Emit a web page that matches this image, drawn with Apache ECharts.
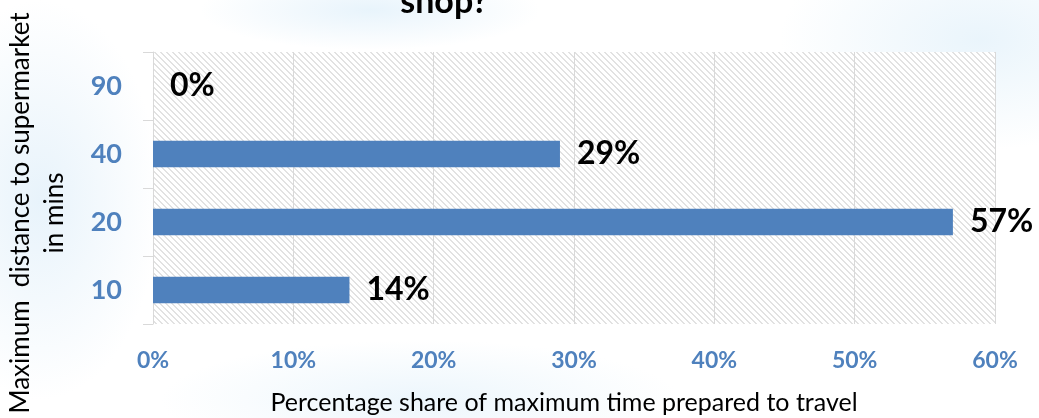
<!DOCTYPE html>
<html>
<head>
<meta charset="utf-8">
<title>Maximum distance to supermarket</title>
<script src="https://cdn.jsdelivr.net/npm/echarts@6/dist/echarts.min.js"></script>
<style>
  html, body { margin: 0; padding: 0; background: #ffffff; }
  #wrap {
    position: relative;
    width: 1039px; height: 418px; overflow: hidden;
    background:
      radial-gradient(ellipse 120px 200px at 40px 200px, rgba(226,240,250,0.8), rgba(226,240,250,0) 100%),
      radial-gradient(ellipse 170px 40px at 370px 10px, rgba(228,242,251,0.85), rgba(228,242,251,0) 100%),
      radial-gradient(ellipse 200px 110px at 980px 40px, rgba(230,243,251,0.85), rgba(230,243,251,0) 100%),
      radial-gradient(ellipse 260px 60px at 420px 400px, rgba(230,243,251,0.75), rgba(230,243,251,0) 100%),
      #ffffff;
  }
  #chart { width: 1039px; height: 418px; }
</style>
</head>
<body>
<div id="wrap"><div id="chart"></div></div>
<script>
// Minutes people are prepared to travel, bottom to top on the axis
const categories = ['10', '20', '40', '90'];
// Share of respondents (%) for each maximum travel time
const shares = [14, 57, 29, 0];
// Tick values on the percentage axis
const percentTicks = [0, 10, 20, 30, 40, 50, 60];

const BLUE = '#4f81bd';
const FONT = 'Lato, "Open Sans", sans-serif';

// Hatched fill for the plotting area (light downward diagonal)
function hatchPattern() {
  const c = document.createElement('canvas');
  c.width = 6; c.height = 6;
  const g = c.getContext('2d');
  g.fillStyle = '#ffffff';
  g.fillRect(0, 0, 6, 6);
  g.fillStyle = '#e2e2e2';
  for (let y = 0; y < 6; y++) {
    for (let x = 0; x < 6; x++) {
      const d = ((x - y) % 6 + 6) % 6;
      if (d === 0 || d === 1) g.fillRect(x, y, 1, 1);
    }
  }
  return { image: c, repeat: 'repeat' };
}

const chart = echarts.init(document.getElementById('chart'), null, { renderer: 'canvas' });

chart.setOption({
  backgroundColor: 'transparent',
  animation: false,
  grid: {
    left: 153, right: 44, top: 52, bottom: 94,
    show: true,
    backgroundColor: hatchPattern(),
    borderWidth: 0
  },
  xAxis: {
    type: 'value',
    min: percentTicks[0],
    max: percentTicks[percentTicks.length - 1],
    interval: percentTicks[1] - percentTicks[0],
    axisLine: { show: false },
    axisTick: { show: false },
    splitLine: { show: true, lineStyle: { color: '#d9d9d9', width: 1 } },
    axisLabel: {
      formatter: '{value}%',
      color: BLUE,
      fontFamily: FONT,
      fontWeight: 'bold',
      fontSize: 23,
      margin: 25
    }
  },
  yAxis: {
    type: 'category',
    data: categories,
    axisLine: { show: true, lineStyle: { color: '#d9d9d9', width: 1 } },
    axisTick: { show: true, length: 10, lineStyle: { color: '#d9d9d9', width: 1 } },
    splitLine: { show: false },
    axisLabel: {
      color: BLUE,
      fontFamily: FONT,
      fontWeight: 'bold',
      fontSize: 27,
      margin: 31
    }
  },
  series: [{
    type: 'bar',
    data: shares,
    barCategoryGap: '61%',
    itemStyle: { color: BLUE },
    label: {
      show: true,
      position: 'right',
      distance: 17,
      formatter: '{c}%',
      color: '#000000',
      fontFamily: FONT,
      fontWeight: 'bold',
      fontSize: 32
    }
  }],
  graphic: [
    {
      type: 'text',
      x: 444, y: 19,
      style: {
        text: 'shop?',
        font: 'bold 34px ' + FONT,
        fill: '#000000',
        align: 'center',
        verticalAlign: 'bottom'
      }
    },
    {
      type: 'text',
      x: 38, y: 213,
      rotation: Math.PI / 2,
      style: {
        text: 'Maximum  distance to supermarket\nin mins',
        font: '26px ' + FONT,
        lineHeight: 34,
        fill: '#000000',
        align: 'center',
        verticalAlign: 'middle'
      }
    },
    {
      type: 'text',
      x: 564, y: 403,
      style: {
        text: 'Percentage share of maximum time prepared to travel',
        font: '25px ' + FONT,
        fill: '#000000',
        align: 'center',
        verticalAlign: 'middle'
      }
    }
  ]
});
</script>
</body>
</html>
